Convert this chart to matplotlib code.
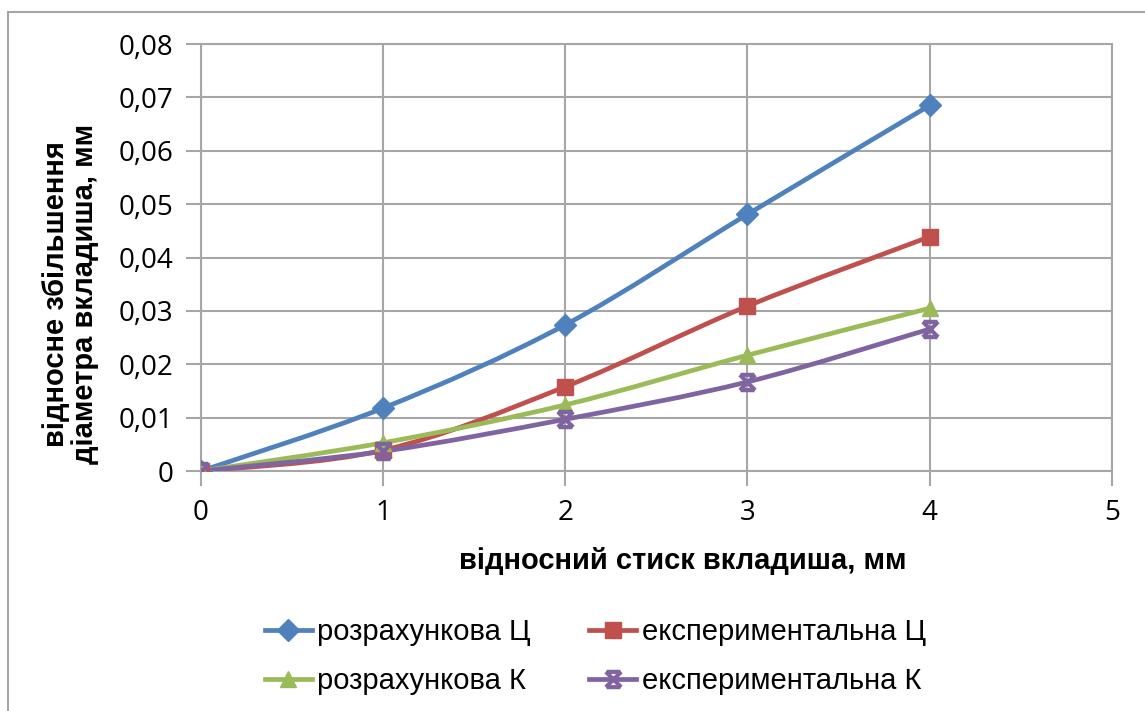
import numpy as np
import matplotlib
matplotlib.use('Agg')
import matplotlib.pyplot as plt
from matplotlib.path import Path
from matplotlib.patches import PathPatch
from matplotlib.lines import Line2D

# дані
x = [0, 1, 2, 3, 4]
rozr_c = [0, 0.0118, 0.0274, 0.0481, 0.0685]
eksp_c = [0, 0.0039, 0.0158, 0.0309, 0.0439]
rozr_k = [0, 0.0053, 0.0124, 0.0217, 0.0305]
eksp_k = [0, 0.0037, 0.0097, 0.0167, 0.0266]

names = ['розрахункова Ц', 'експериментальна Ц', 'розрахункова К', 'експериментальна К']
colors = ['#4F81BD', '#C0504D', '#9BBB59', '#8064A2']

# маркер "зірка" як в Excel
star = Path([(-1, -1), (1, 1), (-1, 1), (1, -1), (-0.9, 1), (0.9, 1), (-0.9, -1), (0.9, -1)],
            [Path.MOVETO, Path.LINETO, Path.MOVETO, Path.LINETO,
             Path.MOVETO, Path.LINETO, Path.MOVETO, Path.LINETO])
markers = ['D', 's', '^', star]
msizes = [11, 11, 12, 11]


def smooth_path(xs, ys, t=1 / 6):
    # згладжена лінія кривими Безьє (як "згладжена лінія" в Excel)
    xs = np.asarray(xs, float)
    ys = np.asarray(ys, float)
    verts = [(xs[0], ys[0])]
    codes = [Path.MOVETO]
    n = len(xs)
    for i in range(n - 1):
        i0 = max(i - 1, 0)
        i3 = min(i + 2, n - 1)
        c1 = (xs[i] + (xs[i + 1] - xs[i0]) * t, ys[i] + (ys[i + 1] - ys[i0]) * t)
        c2 = (xs[i + 1] - (xs[i3] - xs[i]) * t, ys[i + 1] - (ys[i3] - ys[i]) * t)
        verts += [c1, c2, (xs[i + 1], ys[i + 1])]
        codes += [Path.CURVE4] * 3
    return Path(verts, codes)


fig = plt.figure(figsize=(11.45, 7.11), dpi=100)
ax = fig.add_axes([0.1755, 0.3375, 0.7955, 0.6005])

grid_c = '#A6A6A6'
ax.set_xlim(0, 5)
ax.set_ylim(0, 0.08)
ax.set_xticks(range(6))
ax.set_yticks(np.arange(0, 0.081, 0.01))
ax.set_xticklabels([str(i) for i in range(6)])
ax.set_yticklabels(['0'] + ['0,%02d' % i for i in range(1, 9)])
ax.grid(True, color=grid_c, linewidth=1.5)
ax.set_axisbelow(True)
for s in ax.spines.values():
    s.set_color(grid_c)
    s.set_linewidth(1.5)
ax.tick_params(colors=grid_c, length=11, width=1.5, labelcolor='black', labelsize=20, pad=9)
for lab in ax.get_xticklabels() + ax.get_yticklabels():
    lab.set_family('Open Sans')

all_series = [rozr_c, eksp_c, rozr_k, eksp_k]
handles = []
for ys, c, m, ms, name in zip(all_series, colors, markers, msizes, names):
    ax.add_patch(PathPatch(smooth_path(x, ys), facecolor='none', edgecolor=c, linewidth=3.4,
                           capstyle='round', joinstyle='round', zorder=3))
    if m is star:
        ax.plot(x, ys, linestyle='none', marker=m, markersize=ms, markeredgecolor=c,
                markeredgewidth=3, zorder=4)
    else:
        ax.plot(x, ys, linestyle='none', marker=m, markersize=ms, color=c, zorder=4)
    handles.append(Line2D([], [], color=c, linewidth=3.4, marker=m, markersize=ms,
                          markeredgecolor=c, markeredgewidth=3 if m is star else 1))

ax.set_xlabel('відносний стиск вкладиша, мм', fontsize=21, fontweight='bold',
              family='Liberation Sans')
ax.xaxis.set_label_coords(0.529, -0.178)
ax.set_ylabel('відносне збільшення\nдіаметра вкладиша, мм', fontsize=21, fontweight='bold',
              family='Liberation Sans', linespacing=1.05)
ax.yaxis.set_label_coords(-0.112, 0.415)

# легенда заповнюється по рядках
order = [0, 2, 1, 3]
fig.legend([handles[i] for i in order], [names[i] for i in order], loc='center',
           bbox_to_anchor=(0.52, 0.077), ncol=2, frameon=False,
           prop={'family': 'Liberation Sans', 'size': 21}, handlelength=1.6, handletextpad=0.2,
           columnspacing=2.0, labelspacing=0.72)

# рамка області діаграми
fig.add_artist(Line2D([8 / 1145, 8 / 1145], [0, 1 - 12 / 711], color='#A6A6A6', linewidth=1.5,
                      transform=fig.transFigure))
fig.add_artist(Line2D([8 / 1145, 1], [1 - 12 / 711, 1 - 12 / 711], color='#A6A6A6', linewidth=1.5,
                      transform=fig.transFigure))

fig.savefig('out.png', dpi=100)
